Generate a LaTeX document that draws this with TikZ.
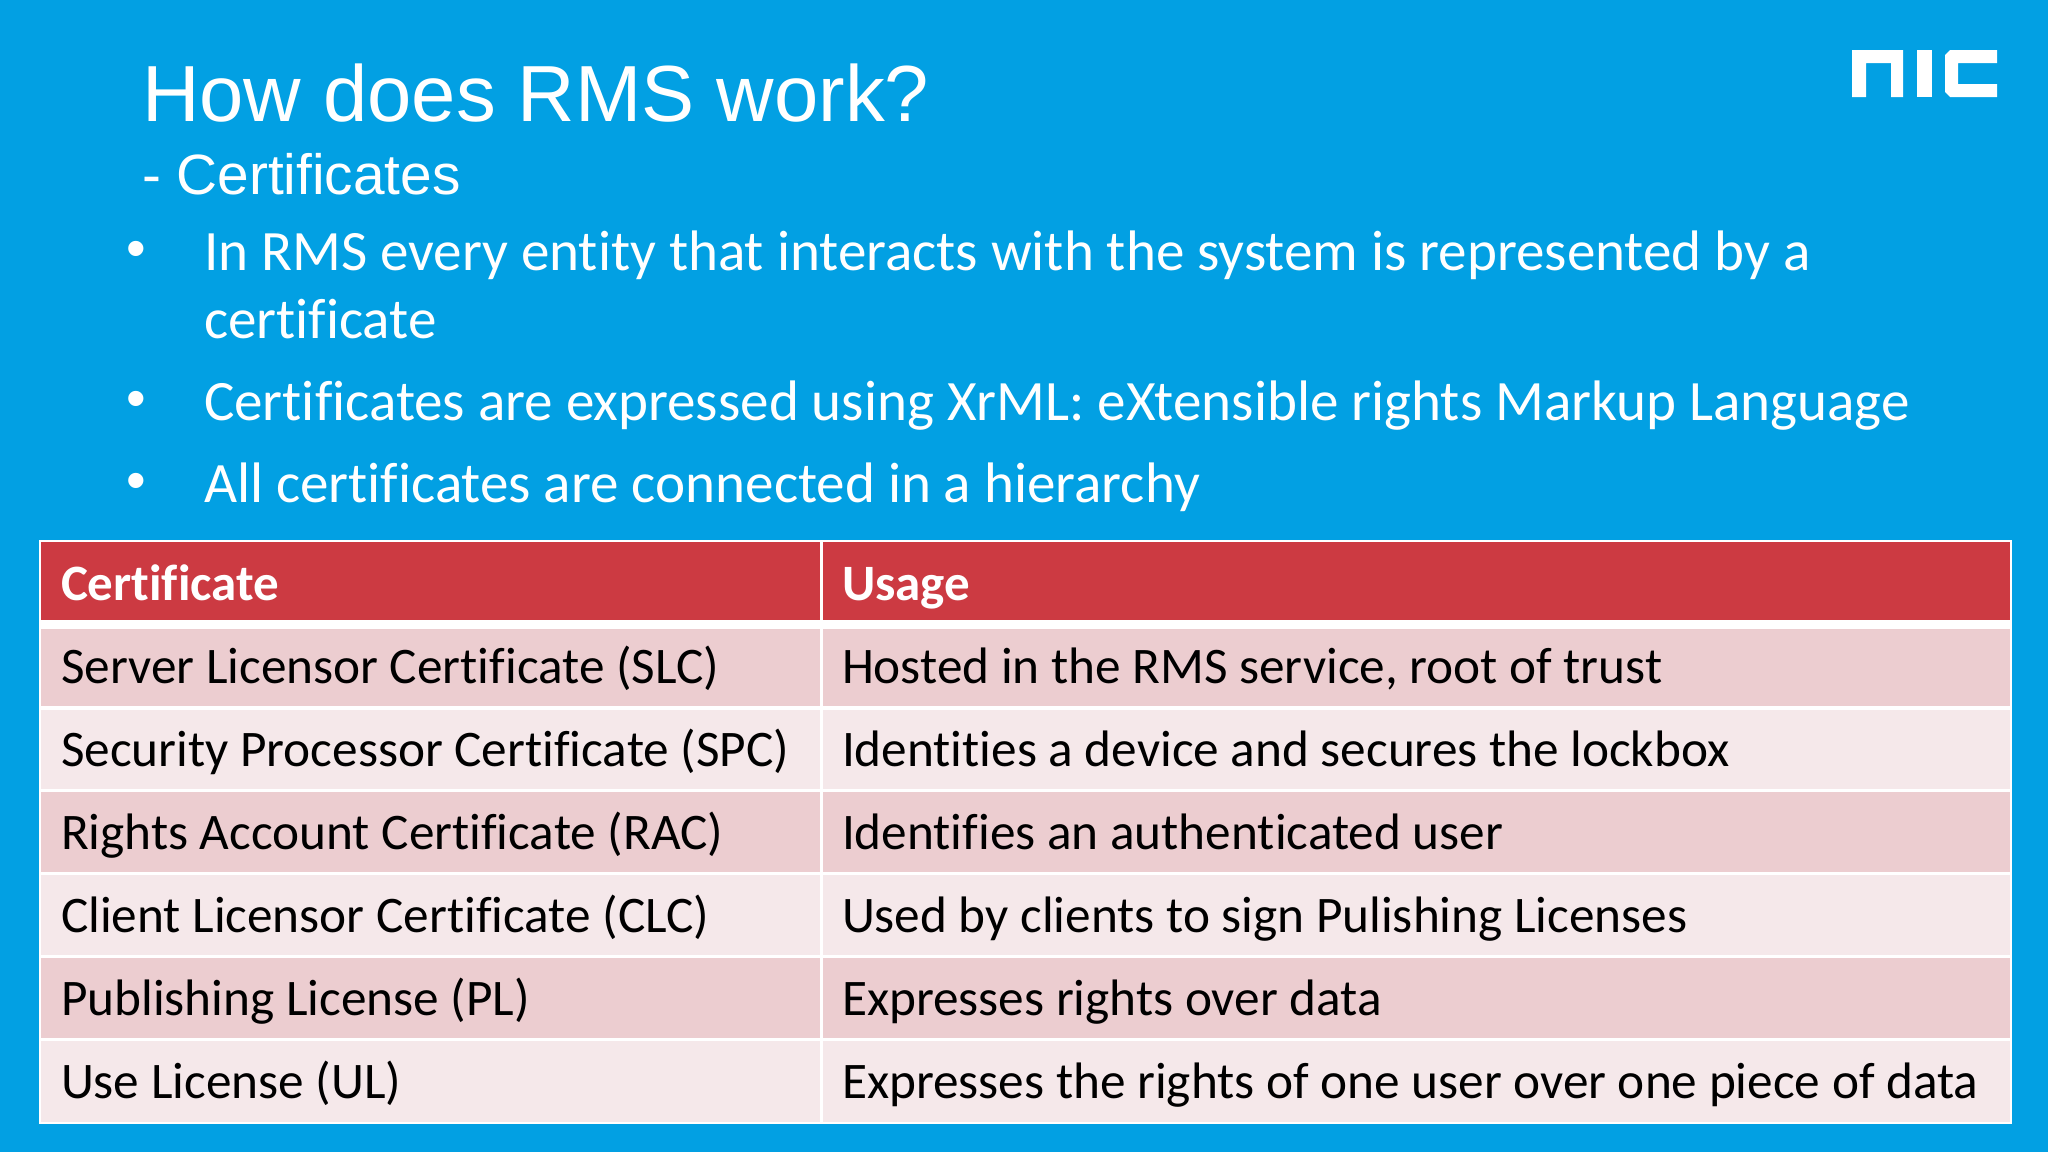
\documentclass[tikz,border=0pt]{standalone}
\usepackage{fontspec}
\setmainfont[RawFeature={-liga}]{Carlito}
\newfontfamily\arialf{Liberation Sans}
\definecolor{bgblue}{HTML}{02A0E3}
\definecolor{headred}{HTML}{CC3A42}
\definecolor{rowa}{HTML}{ECCDD0}
\definecolor{rowb}{HTML}{F5E8EA}
\tikzset{x=0.5pt,y=-0.5pt,
 every node/.style={inner sep=0pt,outer sep=0pt},
 lbl/.style={anchor=base west,text=white},
 titletext/.style={lbl,font=\arialf\fontsize{39.8}{44}\selectfont},
 subtext/.style={lbl,font=\arialf\fontsize{28.4}{32}\selectfont},
 bodytext/.style={lbl,font=\fontsize{28.55}{32}\selectfont},
 bullettext/.style={lbl,font=\arialf\fontsize{28}{32}\selectfont},
 headtext/.style={lbl,font=\bfseries\fontsize{25.5}{29}\selectfont},
 celltext/.style={anchor=base west,text=black,font=\fontsize{25.63}{29}\selectfont}}
\begin{document}
\begin{tikzpicture}
\useasboundingbox (0,0) rectangle (2048,1152);
\fill[bgblue] (0,0) rectangle (2048,1152);
% logo
\fill[white] (1852,50) -- (1903,50) -- (1903,97) -- (1891,97) -- (1891,63) -- (1866,63) -- (1866,97) -- (1852,97) -- cycle;
\fill[white] (1917,50) rectangle (1932,97);
\fill[white] (1997,50) -- (1997,63) -- (1958,63) -- (1958,84) -- (1997,84) -- (1997,97) -- (1950,97) -- (1945,92) -- (1945,55) -- (1950,50) -- cycle;
% title
\node[titletext] (title) at (142,121) {How does RMS work?};
\node[subtext] (sub) at (142,194) {- Certificates};
\node[bullettext] (b1) at (126,267) {•};
\node[bodytext] (t1) at (204,270) {In RMS every entity that interacts with the system is represented by a};
\node[bodytext] (t1b) at (204,338) {certificate};
\node[bullettext] (b2) at (126,417) {•};
\node[bodytext] (t2) at (204,420) {Certificates are expressed using XrML: eXtensible rights Markup Language};
\node[bullettext] (b3) at (126,499) {•};
\node[bodytext] (t3) at (204,502) {All certificates are connected in a hierarchy};
% table
\fill[white] (39,540) rectangle (2012,1124);
\fill[headred] (41,542) rectangle (820,620);
\fill[headred] (823,542) rectangle (2010,620);
\fill[rowa] (41,629) rectangle (820,706);
\fill[rowa] (823,629) rectangle (2010,706);
\fill[rowb] (41,710) rectangle (820,789);
\fill[rowb] (823,710) rectangle (2010,789);
\fill[rowa] (41,792) rectangle (820,872);
\fill[rowa] (823,792) rectangle (2010,872);
\fill[rowb] (41,875) rectangle (820,955);
\fill[rowb] (823,875) rectangle (2010,955);
\fill[rowa] (41,958) rectangle (820,1038);
\fill[rowa] (823,958) rectangle (2010,1038);
\fill[rowb] (41,1041) rectangle (820,1122);
\fill[rowb] (823,1041) rectangle (2010,1122);
\node[headtext] (h1) at (61,600) {Certificate};
\node[headtext] (h2) at (842,600) {Usage};
\node[celltext] (a1) at (61,683) {Server Licensor Certificate (SLC)};
\node[celltext] (c1) at (842,683) {Hosted in the RMS service, root of trust};
\node[celltext] (a2) at (61,766) {Security Processor Certificate (SPC)};
\node[celltext] (c2) at (842,766) {Identities a device and secures the lockbox};
\node[celltext] (a3) at (61,849) {Rights Account Certificate (RAC)};
\node[celltext] (c3) at (842,849) {Identifies an authenticated user};
\node[celltext] (a4) at (61,932) {Client Licensor Certificate (CLC)};
\node[celltext] (c4) at (842,932) {Used by clients to sign Pulishing Licenses};
\node[celltext] (a5) at (61,1015) {Publishing License (PL)};
\node[celltext] (c5) at (842,1015) {Expresses rights over data};
\node[celltext] (a6) at (61,1098) {Use License (UL)};
\node[celltext] (c6) at (842,1098) {Expresses the rights of one user over one piece of data};
\end{tikzpicture}
\end{document}
